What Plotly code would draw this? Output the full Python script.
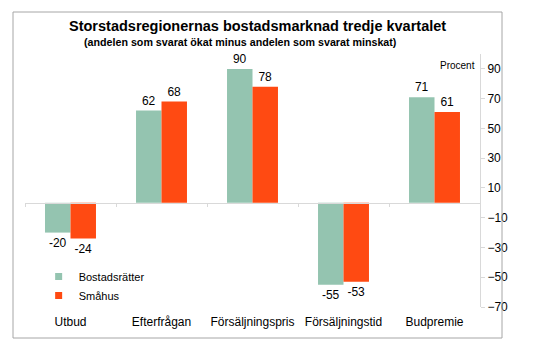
import plotly.graph_objects as go

categories = ["Utbud", "Efterfrågan", "Försäljningspris", "Försäljningstid", "Budpremie"]
bostadsratter = [-20, 62, 90, -55, 71]
smahus = [-24, 68, 78, -53, 61]
series_names = ["Bostadsrätter", "Småhus"]
y_tickvals = [-70, -50, -30, -10, 10, 30, 50, 70, 90]

GREEN = "#94C4B0"
ORANGE = "#FF4A12"
FONT = "Liberation Sans, Arial, sans-serif"

fig = go.Figure()
for name, vals, col in [(series_names[0], bostadsratter, GREEN), (series_names[1], smahus, ORANGE)]:
    fig.add_trace(go.Bar(
        x=categories, y=vals, name=name, marker=dict(color=col, line=dict(width=0)),
        text=[str(v) for v in vals], textposition="outside", cliponaxis=False,
        textfont=dict(size=12, color="#000000", family=FONT), showlegend=False,
    ))
    # legend-only entries with small square markers
    fig.add_trace(go.Scatter(
        x=[None], y=[None], mode="markers", name=name,
        marker=dict(symbol="square", size=7, color=col), showlegend=True,
    ))

# helper axis drawn at zero with category-boundary ticks
fig.add_trace(go.Scatter(x=[None], y=[None], xaxis="x2", yaxis="y", showlegend=False, hoverinfo="skip"))

fig.update_layout(
    width=534, height=361,
    margin=dict(l=25, r=54, t=54, b=54, autoexpand=False),
    paper_bgcolor="white", plot_bgcolor="white",
    font=dict(family=FONT, size=12, color="#000000"),
    barmode="group", bargap=0.44, bargroupgap=0,
    xaxis=dict(
        type="category", range=[-0.5, 4.5], showline=False, ticks="", showgrid=False,
        zeroline=False, tickfont=dict(size=12, family=FONT), ticklabelstandoff=6,
        automargin=False,
    ),
    xaxis2=dict(
        overlaying="x", anchor="free", position=70 / 170, range=[-0.5, 4.5],
        showline=True, linecolor="#D9D9D9", linewidth=1, ticks="outside", ticklen=3,
        tickcolor="#D9D9D9", tickmode="array", tickvals=[-0.5, 0.5, 1.5, 2.5, 3.5, 4.5],
        showticklabels=False, showgrid=False, zeroline=False, fixedrange=True,
        automargin=False,
    ),
    yaxis=dict(
        side="right", range=[-70, 100], tickmode="array", tickvals=y_tickvals,
        showline=True, linecolor="#D9D9D9", linewidth=1, ticks="outside", ticklen=4,
        tickcolor="#D9D9D9", showgrid=False, zeroline=False,
        tickfont=dict(size=12, family=FONT), automargin=False,
    ),
    legend=dict(
        x=0.03, y=0.178, xanchor="left", yanchor="top", bgcolor="rgba(0,0,0,0)",
        font=dict(size=11, family=FONT), itemwidth=30, tracegroupgap=0,
    ),
    shapes=[dict(
        type="rect", xref="paper", yref="paper",
        x0=(13 - 25) / 455, x1=(502 - 25) / 455, y0=(307 - 338) / 253, y1=(307 - 12) / 253,
        line=dict(color="#A6A6A6", width=1), fillcolor="rgba(0,0,0,0)", layer="above",
    )],
    annotations=[
        dict(text="<b>Storstadsregionernas bostadsmarknad tredje kvartalet</b>",
             xref="paper", yref="paper", x=(257.5 - 25) / 455, y=(307 - 26) / 253,
             xanchor="center", yanchor="middle", showarrow=False,
             font=dict(size=14.5, family=FONT)),
        dict(text="<b>(andelen som svarat ökat minus andelen som svarat minskat)</b>",
             xref="paper", yref="paper", x=(240 - 25) / 455, y=(307 - 42) / 253,
             xanchor="center", yanchor="middle", showarrow=False,
             font=dict(size=10.7, family=FONT)),
        dict(text="Procent", xref="paper", yref="paper", x=(457 - 25) / 455, y=(307 - 66) / 253,
             xanchor="center", yanchor="middle", showarrow=False,
             font=dict(size=10, family=FONT)),
    ],
)

fig.write_html("out.html", config={"displayModeBar": False},
               post_script="document.body.style.margin='0';document.body.style.padding='0';")
